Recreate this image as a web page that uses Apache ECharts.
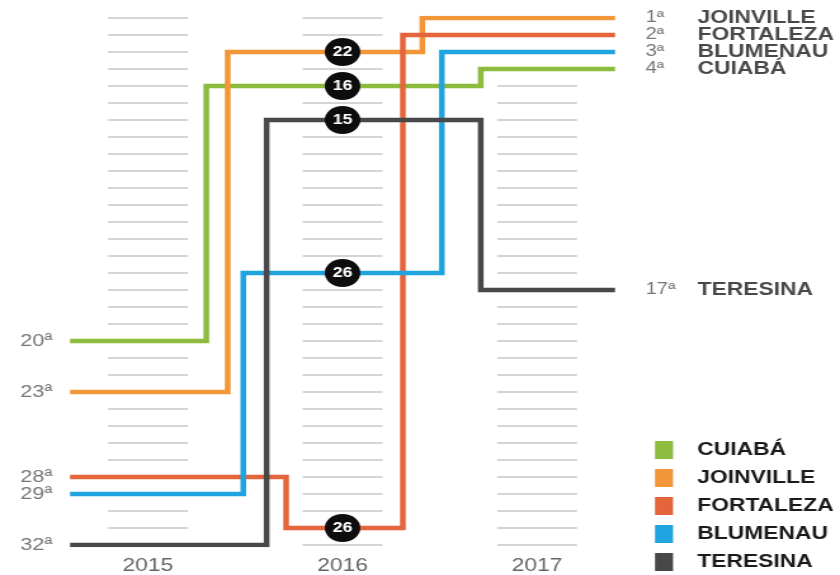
<!DOCTYPE html>
<html>
<head>
<meta charset="utf-8">
<script src="https://cdn.jsdelivr.net/npm/echarts@6/dist/echarts.min.js"></script>
<style>
  html, body { margin: 0; padding: 0; background: #fff; overflow: hidden; }
  /* the artwork is drawn on a narrower canvas and widened, giving the broad letterforms */
  #chart { width: 662px; height: 575px; transform: scaleX(1.26888); transform-origin: 0 0; }
</style>
</head>
<body>
<div id="chart"></div>
<script>
// ---- data ----
const cities   = ['CUIABÁ', 'JOINVILLE', 'FORTALEZA', 'BLUMENAU', 'TERESINA'];
const years    = [2015, 2016, 2017];
const rank2015 = [20, 23, 28, 29, 32];
const rank2016 = [16, 22, 26, 26, 15];   // printed in the 2016 badges
const row2016  = [5, 3, 31, 16, 7];      // row where each line runs through 2016
const rank2017 = [4, 1, 2, 3, 17];
const rankRows = 32;

// ---- style ----
const colors   = ['#8cbb3e', '#f2963a', '#e4643c', '#1fa4e0', '#484848'];
const switchAt = [[0.30, 0.71], [0.41, 0.41], [0.71, 0.31], [0.49, 0.51], [0.61, 0.71]];
const xMin = 2014.6, xMax = 2017.4;
const stripeHalf = 0.205;
const FONT = "'Liberation Sans', Arial, sans-serif";

const chart = echarts.init(document.getElementById('chart'));

const stripeData = [];
years.forEach(y => { for (let r = 1; r <= rankRows; r++) stripeData.push([y, r]); });

const series = [{
  name: 'faixas',
  type: 'custom',
  silent: true,
  z: 1,
  data: stripeData,
  renderItem: (params, api) => {
    const y = api.value(0), r = api.value(1);
    const a = api.coord([y - stripeHalf, r]);
    const b = api.coord([y + stripeHalf, r]);
    return { type: 'line', shape: { x1: a[0], y1: a[1], x2: b[0], y2: b[1] },
             style: { stroke: '#c6c6c6', lineWidth: 1.5 } };
  }
}];

cities.forEach((c, i) => {
  const s1 = 2015 + switchAt[i][0], s2 = 2016 + switchAt[i][1];
  series.push({
    name: c,
    type: 'line',
    color: colors[i],
    z: 3 + i,
    showSymbol: false,
    symbol: 'none',
    lineStyle: { width: 4.5, color: colors[i], join: 'miter', cap: 'butt' },
    data: [[xMin, rank2015[i]], [s1, rank2015[i]], [s1, row2016[i]],
           [s2, row2016[i]], [s2, rank2017[i]], [xMax, rank2017[i]]]
  });
});

// badges for 2016
series.push({
  name: 'posição 2016',
  type: 'scatter',
  z: 20,
  symbol: 'circle',
  symbolSize: 28,
  itemStyle: { color: '#0d0d0d', opacity: 1 },
  data: cities.map((c, i) => ({ value: [2016, row2016[i]], rank: rank2016[i] })),
  label: { show: true, position: 'inside', color: '#fff', fontFamily: FONT,
           fontWeight: 'bold', fontSize: 14,
           formatter: p => String(p.data.rank) }
});

// 2015 ranks on the left
series.push({
  name: 'ranking 2015',
  type: 'scatter',
  symbolSize: 0,
  silent: true,
  data: rank2015.map(r => [xMin, r]),
  label: { show: true, position: 'left', distance: 14, color: '#555', fontFamily: FONT,
           fontSize: 17, formatter: p => p.value[1] + 'ª' }
});

// 2017 ranks and names on the right
series.push({
  name: 'ranking 2017',
  type: 'scatter',
  symbolSize: 0,
  silent: true,
  data: cities.map((c, i) => ({ value: [xMax, rank2017[i]], city: c })),
  label: { show: true, position: 'right', distance: 24,
           formatter: p => '{o|' + p.value[1] + 'ª}{n|' + p.data.city + '}',
           rich: {
             o: { width: 41, color: '#555', fontFamily: FONT, fontSize: 16 },
             n: { color: '#1a1a1a', fontFamily: FONT, fontSize: 18, fontWeight: 'bold' }
           } }
});

chart.setOption({
  animation: false,
  backgroundColor: '#fff',
  grid: { left: 55.2, right: 177.3, top: 18, bottom: 30 },
  xAxis: {
    type: 'value', min: xMin, max: xMax,
    splitLine: { show: false }, axisLine: { show: false }, axisTick: { show: false },
    axisLabel: { customValues: years, margin: 12, color: '#666', fontFamily: FONT,
                 fontSize: 18, formatter: v => String(v) }
  },
  yAxis: {
    type: 'value', min: 1, max: rankRows, inverse: true,
    show: false, splitLine: { show: false }
  },
  legend: {
    data: cities,
    orient: 'vertical',
    left: 516.2, top: 441,
    padding: 0,
    icon: 'rect',
    itemWidth: 14.2, itemHeight: 18, itemGap: 10,
    selectedMode: false,
    textStyle: { color: '#1a1a1a', fontFamily: FONT, fontSize: 18, fontWeight: 'bold',
                 padding: [0, 0, 0, 14], lineHeight: 18 }
  },
  series
});
</script>
</body>
</html>
